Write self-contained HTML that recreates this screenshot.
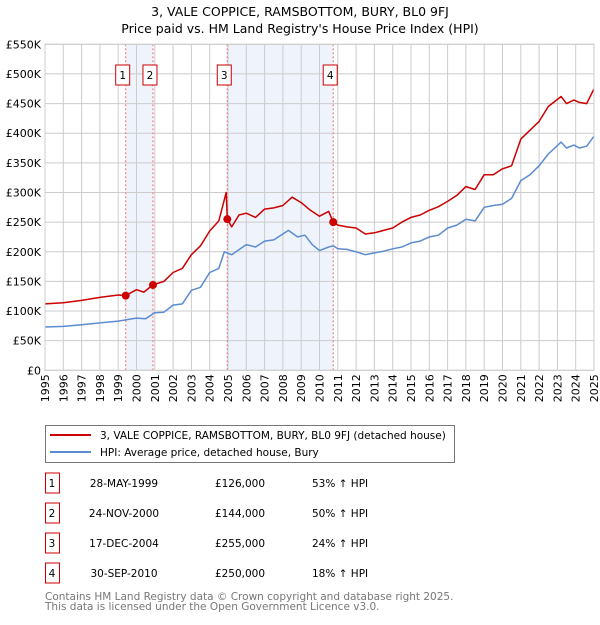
<!DOCTYPE html>
<html><head><meta charset="utf-8"><style>
body{margin:0;background:#fff;}
svg text{font-family:"DejaVu Sans","Liberation Sans",sans-serif;}
</style></head><body>
<svg id="chart" width="600" height="620" viewBox="0 0 600 620" xmlns="http://www.w3.org/2000/svg">
<text x="300" y="16" text-anchor="middle" font-size="12.5" fill="#000">3, VALE COPPICE, RAMSBOTTOM, BURY, BL0 9FJ</text>
<text x="300" y="33" text-anchor="middle" font-size="12.5" fill="#000">Price paid vs. HM Land Registry's House Price Index (HPI)</text>
<g id="plot"></g>
<g>
<rect x="45.5" y="425.5" width="409" height="37" fill="#fff" stroke="#777"/>
<line x1="50" y1="435" x2="91" y2="435" stroke="#cc0000" stroke-width="2"/>
<text x="100" y="439" font-size="10.5">3, VALE COPPICE, RAMSBOTTOM, BURY, BL0 9FJ (detached house)</text>
<line x1="50" y1="452" x2="91" y2="452" stroke="#5b8bd0" stroke-width="2"/>
<text x="100" y="456" font-size="10.5">HPI: Average price, detached house, Bury</text>
</g>
<g id="table"></g>
<text x="45" y="600" font-size="10.5" fill="#777">Contains HM Land Registry data © Crown copyright and database right 2025.</text>
<text x="45" y="610" font-size="10.5" fill="#777">This data is licensed under the Open Government Licence v3.0.</text>
</svg>
<script>
const redYears=[1995,1996,1997,1998,1999,1999.41,2000,2000.4,2000.9,2001.5,2002,2002.5,2003,2003.5,2004,2004.5,2004.9,2004.96,2005.2,2005.6,2006,2006.5,2007,2007.5,2008,2008.5,2009,2009.5,2010,2010.5,2010.75,2011,2011.5,2012,2012.5,2013,2013.5,2014,2014.5,2015,2015.5,2016,2016.5,2017,2017.5,2018,2018.5,2019,2019.5,2020,2020.5,2021,2021.5,2022,2022.5,2023.2,2023.5,2023.9,2024.2,2024.6,2025];
const redValues=[112,114,118,123,127,126,136,132,144,150,165,172,195,210,235,252,300,255,242,262,265,258,272,274,278,292,283,270,260,268,250,245,242,240,230,232,236,240,250,258,262,270,276,285,295,310,305,330,330,340,345,390,405,420,445,462,450,456,452,450,475];
const hpiYears=[1995,1996,1997,1998,1999,2000,2000.5,2001,2001.5,2002,2002.5,2003,2003.5,2004,2004.5,2004.8,2005.2,2006,2006.5,2007,2007.5,2008,2008.3,2008.8,2009.2,2009.6,2010,2010.5,2010.75,2011,2011.5,2012,2012.5,2013,2013.5,2014,2014.5,2015,2015.5,2016,2016.5,2017,2017.5,2018,2018.5,2019,2019.5,2020,2020.5,2021,2021.5,2022,2022.5,2023.2,2023.5,2023.9,2024.2,2024.6,2025];
const hpiValues=[73,74,77,80,83,88,87,97,98,110,112,135,140,165,172,200,195,212,208,218,220,230,236,225,228,212,202,208,210,205,204,200,195,198,201,205,208,215,218,225,228,240,245,255,252,275,278,280,290,320,330,345,365,385,375,380,375,378,395];
const saleYears=[1999.41,2000.9,2004.96,2010.75];
const salePrices=[126,144,255,250];
const saleLabels=["1","2","3","4"];
const saleDates=["28-MAY-1999","24-NOV-2000","17-DEC-2004","30-SEP-2010"];
const salePriceText=["£126,000","£144,000","£255,000","£250,000"];
const saleHpiText=["53% ↑ HPI","50% ↑ HPI","24% ↑ HPI","18% ↑ HPI"];
const yTicks=[0,50,100,150,200,250,300,350,400,450,500,550];
const yTickLabels=["£0","£50K","£100K","£150K","£200K","£250K","£300K","£350K","£400K","£450K","£500K","£550K"];
const xTicks=[1995,1996,1997,1998,1999,2000,2001,2002,2003,2004,2005,2006,2007,2008,2009,2010,2011,2012,2013,2014,2015,2016,2017,2018,2019,2020,2021,2022,2023,2024,2025];

const NS="http://www.w3.org/2000/svg";
const X0=45,X1=594,Y0=370.3,Y1=44.3;
const xs=y=>X0+(y-1995)/30*(X1-X0);
const ys=v=>Y0-v/550*(Y0-Y1);
function mk(tag,attrs,parent){const e=document.createElementNS(NS,tag);for(const k in attrs)e.setAttribute(k,attrs[k]);parent.appendChild(e);return e;}
const plot=document.getElementById('plot');
for(let i=0;i<saleYears.length;i+=2){
  const r=mk('rect',{x:xs(saleYears[i]),y:Y1,width:xs(saleYears[i+1])-xs(saleYears[i]),height:Y0-Y1,fill:'#eef3fc'},plot);
  
  
}
yTicks.forEach((t,i)=>{
  const l=mk('line',{x1:X0,x2:X1,y1:ys(t),y2:ys(t),stroke:'#ccc','stroke-width':1},plot);
  
  
  const tx=mk('text',{x:X0-4,y:ys(t)+4,'text-anchor':'end','font-size':'11'},plot);
  
  
  tx.textContent=yTickLabels[i];
});
xTicks.forEach(t=>{
  const l=mk('line',{x1:xs(t),x2:xs(t),y1:Y1,y2:Y0,stroke:'#ccc','stroke-width':1},plot);
  
  
  const tx=mk('text',{x:0,y:0,'text-anchor':'end','font-size':'11',transform:`translate(${xs(t)+4},${Y0+4}) rotate(-90)`},plot);
  
  
  tx.textContent=t;
});
saleYears.forEach((y,i)=>{
  const l=mk('line',{x1:xs(y),x2:xs(y),y1:Y1,y2:Y0,stroke:'#f07070','stroke-width':1,'stroke-dasharray':'2,2'},plot);
  
  
  const b=mk('rect',{x:xs(y)-10,y:65,width:14,height:20,fill:'#fff',stroke:'#cc0000'},plot);
  
  
  const t=mk('text',{x:xs(y)-3,y:79,'text-anchor':'middle','font-size':'10.5'},plot);
  
  
  t.textContent=saleLabels[i];
});
function line(xa,va,color,name){
  const d=xa.map((x,i)=>(i?'L':'M')+xs(x).toFixed(1)+','+ys(va[i]).toFixed(1)).join('');
  const p=mk('path',{d:d,fill:'none',stroke:color,'stroke-width':1.5,'stroke-linejoin':'round'},plot);
  
  
}
line(hpiYears,hpiValues,'#5b8bd0','hpi-line');
line(redYears,redValues,'#cc0000','property-price-line');
saleYears.forEach((y,i)=>{
  const c=mk('circle',{cx:xs(y),cy:ys(salePrices[i]),r:4,fill:'#cc0000'},plot);
  
  
});
const frame=mk('rect',{x:X0,y:Y1,width:X1-X0,height:Y0-Y1,fill:'none',stroke:'#ccc'},plot);


const tb=document.getElementById('table');
saleLabels.forEach((s,i)=>{
  const cy=483+i*30;
  const b=mk('rect',{x:45.5,y:cy-10,width:14,height:20,fill:'#fff',stroke:'#cc0000'},tb);
  
  
  const cells=[[52,s,'middle'],[124,saleDates[i],'middle'],[240,salePriceText[i],'middle'],[312,saleHpiText[i],'start']];
  cells.forEach(c=>{
    const t=mk('text',{x:c[0],y:cy+4,'text-anchor':c[2],'font-size':'10.5'},tb);
    
    
    t.textContent=c[1];
  });
});
</script>
</body></html>
